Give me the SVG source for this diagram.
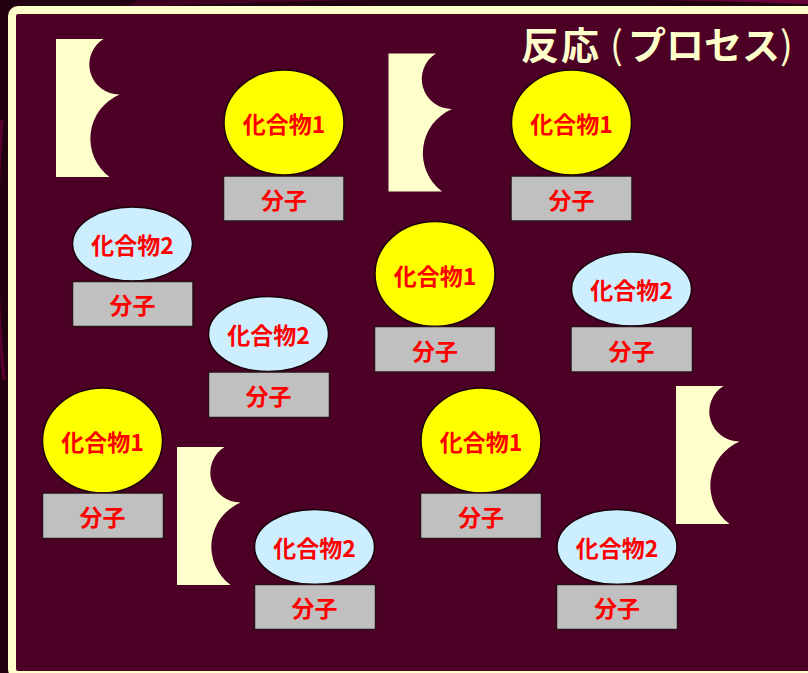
<svg xmlns="http://www.w3.org/2000/svg" width="808" height="673" viewBox="0 0 808 673">
  <defs>
    <style>
      .y { fill: #ffff00; stroke: #1a0008; stroke-width: 1.5; }
      .b { fill: #cceeff; stroke: #1a0008; stroke-width: 1.5; }
      .m { fill: #c0c0c0; stroke: #2a1018; stroke-width: 1.5; }
      .t { font-family: "Noto Sans CJK JP", "Noto Sans", sans-serif; font-weight: bold; font-size: 23px; fill: #ff0000; text-anchor: middle; dominant-baseline: central; }
      .title { font-family: "Noto Sans CJK JP", "Noto Sans", sans-serif; font-weight: bold; font-size: 38px; fill: #ffffcc; }
      .paren { font-weight: normal; }
      .br { fill: #ffffcc; }
    </style>
    <!-- brace-like block: flat left side, two scalloped bites on the right -->
    <path id="brace" d="M0,0 H47.5 A30,30 0 0 0 63.5,55.5 A48,48 0 0 0 53.5,138 H0 Z"/>
    <linearGradient id="sw" x1="0" y1="0" x2="1" y2="0">
      <stop offset="0" stop-color="#3a0020"/>
      <stop offset="1" stop-color="#6a0038"/>
    </linearGradient>
  </defs>

  <!-- outer backdrop -->
  <rect x="0" y="0" width="808" height="673" fill="#22000f"/>
  <path d="M120,8 C300,-2 600,-4 808,4 L808,0 L140,0 Z" fill="url(#sw)"/>
  <path d="M2,120 C-4,200 -4,300 4,380" fill="none" stroke="#5a0030" stroke-width="3"/>

  <!-- framed panel -->
  <rect x="12" y="10" width="810" height="665" rx="6" fill="#4c0026" stroke="#ffffcc" stroke-width="8"/>

  <!-- title, glyphs placed one by one for wide spacing -->
  <text class="title" y="59"><tspan x="521 561">反応</tspan><tspan class="paren" x="610">(</tspan><tspan x="628 666 704 742">プロセス</tspan><tspan class="paren" x="780">)</tspan></text>

  <!-- braces -->
  <g id="brace1"><use href="#brace" class="br" x="56" y="39"/></g>
  <g id="brace2"><use href="#brace" class="br" x="388.5" y="53.5"/></g>
  <g id="brace3"><use href="#brace" class="br" x="676" y="386"/></g>
  <g id="brace4"><use href="#brace" class="br" x="177" y="447"/></g>

  <!-- compound nodes: ellipse on top of a molecule box -->
  <g id="c1a">
    <ellipse class="y" cx="284" cy="122.5" rx="60" ry="52.5"/>
    <text class="t" x="284" y="123">化合物1</text>
    <rect class="m" x="223.5" y="176" width="120.5" height="45"/>
    <text class="t" x="284" y="198.5">分子</text>
  </g>
  <g id="c1b">
    <ellipse class="y" cx="571.5" cy="122.5" rx="60" ry="52.5"/>
    <text class="t" x="571.5" y="123">化合物1</text>
    <rect class="m" x="511" y="176" width="121" height="45"/>
    <text class="t" x="571.5" y="198.5">分子</text>
  </g>
  <g id="c2a">
    <ellipse class="b" cx="132.5" cy="244" rx="60" ry="37"/>
    <text class="t" x="132.5" y="244">化合物2</text>
    <rect class="m" x="72.5" y="281.5" width="120.5" height="45"/>
    <text class="t" x="132.5" y="304">分子</text>
  </g>
  <g id="c1c">
    <ellipse class="y" cx="435" cy="274" rx="60" ry="52.5"/>
    <text class="t" x="435" y="274.5">化合物1</text>
    <rect class="m" x="374.5" y="326.5" width="121" height="45.5"/>
    <text class="t" x="435" y="349.5">分子</text>
  </g>
  <g id="c2b">
    <ellipse class="b" cx="631.5" cy="289" rx="60" ry="37"/>
    <text class="t" x="631.5" y="289">化合物2</text>
    <rect class="m" x="571" y="326.5" width="121.5" height="45.5"/>
    <text class="t" x="631.5" y="349.5">分子</text>
  </g>
  <g id="c2c">
    <ellipse class="b" cx="268.5" cy="334" rx="60" ry="37.5"/>
    <text class="t" x="268.5" y="334">化合物2</text>
    <rect class="m" x="208.5" y="372" width="121" height="45.5"/>
    <text class="t" x="268.5" y="395">分子</text>
  </g>
  <g id="c1d">
    <ellipse class="y" cx="102.5" cy="440.5" rx="60" ry="52.5"/>
    <text class="t" x="102.5" y="441">化合物1</text>
    <rect class="m" x="42.5" y="493" width="121" height="45.5"/>
    <text class="t" x="102.5" y="516">分子</text>
  </g>
  <g id="c1e">
    <ellipse class="y" cx="481" cy="440.5" rx="60" ry="52.5"/>
    <text class="t" x="481" y="441">化合物1</text>
    <rect class="m" x="420.5" y="493" width="121" height="45.5"/>
    <text class="t" x="481" y="516">分子</text>
  </g>
  <g id="c2d">
    <ellipse class="b" cx="314.5" cy="547" rx="60" ry="37.5"/>
    <text class="t" x="314.5" y="547">化合物2</text>
    <rect class="m" x="254.5" y="584.5" width="121" height="45"/>
    <text class="t" x="314.5" y="607">分子</text>
  </g>
  <g id="c2e">
    <ellipse class="b" cx="617" cy="547" rx="60" ry="37.5"/>
    <text class="t" x="617" y="547">化合物2</text>
    <rect class="m" x="556.5" y="584.5" width="121" height="45"/>
    <text class="t" x="617" y="607">分子</text>
  </g>

  <!-- no links between nodes -->
  <g id="connectors"/>
</svg>
